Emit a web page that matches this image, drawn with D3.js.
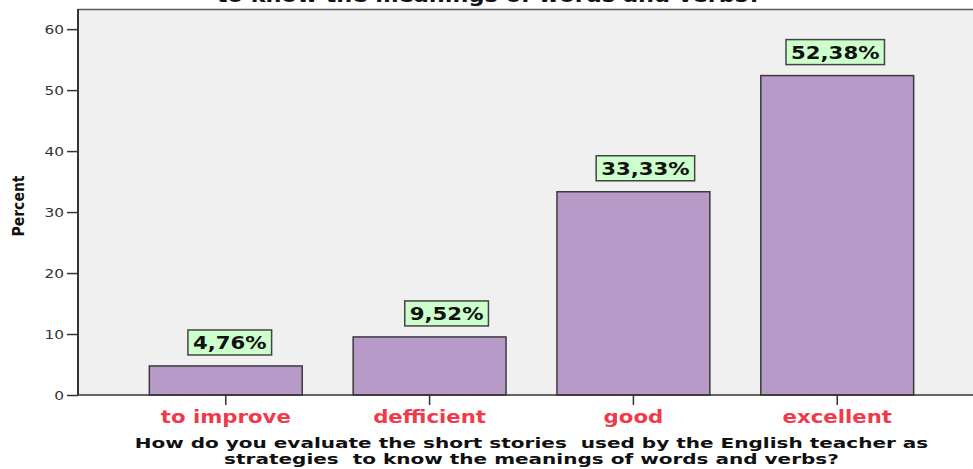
<!DOCTYPE html>
<html>
<head>
<meta charset="utf-8">
<script src="https://cdn.jsdelivr.net/npm/d3@7"></script>
<style>
  html, body { margin: 0; padding: 0; background: #ffffff; }
  svg { display: block; }
  text { white-space: pre; }
</style>
</head>
<body>
<div id="chart"></div>
<script>
'use strict'

// data
const categories = ["to improve", "defficient", "good", "excellent"]
const percents = [4.76, 9.52, 33.33, 52.38]
const valueLabels = ["4,76%", "9,52%", "33,33%", "52,38%"]
const yTicks = [0, 10, 20, 30, 40, 50, 60]
const titleText = "to know the meanings of words and verbs?"
const xTitleLines = ["How do you evaluate the short stories  used by the English teacher as",
                     "strategies  to know the meanings of words and verbs?"]

////////////////////////////////////
//////////// svg setup /////////////
////////////////////////////////////

const svgWidth = 973
const svgHeight = 469

// plot frame (runs past the right edge, as in the picture)
const plot = { left: 78, right: 985, top: 9, bottom: 395 }

// the source image was stretched sideways, text too
const stretch = 1.18
const font = "'DejaVu Sans', Verdana, sans-serif"

// little sideways nudges of the value boxes, as placed in the source
const labelShift = [4, 17, 12, -2]

const svg = d3.select('#chart')
    .append('svg')
    .attr('width', svgWidth)
    .attr('height', svgHeight)

// widen a text element by the stretch factor
function widen(sel, k = stretch) {
    sel.each(function () {
        const len = this.getComputedTextLength()
        d3.select(this)
            .attr('textLength', len * k)
            .attr('lengthAdjust', 'spacingAndGlyphs')
    })
}

////////////////////////////////////
//////////// Scales ////////////////
////////////////////////////////////

const x = d3.scaleBand()
    .domain(categories)
    .range([plot.left, plot.right])
    .paddingInner(0.25)
    .paddingOuter(0.35)

const y = d3.scaleLinear()
    .domain([0, 63.3])
    .range([plot.bottom, plot.top])

////////////////////////////////////
//////////// add to DOM ////////////
////////////////////////////////////

// plot background
svg.append('rect')
    .attr('x', plot.left)
    .attr('y', plot.top)
    .attr('width', plot.right - plot.left)
    .attr('height', plot.bottom - plot.top)
    .style('fill', '#f0f0f0')

svg.append('line')
    .attr('x1', plot.left).attr('x2', plot.right)
    .attr('y1', plot.top + 0.5).attr('y2', plot.top + 0.5)
    .style('stroke', '#5a5a5a')
    .style('stroke-width', 1.5)

// bars
const data = categories.map((c, i) => ({ cat: c, value: percents[i], label: valueLabels[i], shift: labelShift[i] }))

svg.selectAll('.bar')
    .data(data)
    .join('rect')
    .attr('class', 'bar')
    .attr('x', d => x(d.cat))
    .attr('y', d => y(d.value))
    .attr('width', x.bandwidth())
    .attr('height', d => y(0) - y(d.value))
    .style('fill', '#b89ac9')
    .style('stroke', '#3a3a3a')
    .style('stroke-width', 1.5)

// value boxes
const boxH = 25
const labels = svg.selectAll('.vlabel')
    .data(data)
    .join('g')
    .attr('class', 'vlabel')

labels.each(function (d) {
    const g = d3.select(this)
    const cx = x(d.cat) + x.bandwidth() / 2 + d.shift
    const bottom = y(d.value) - 11
    const t = g.append('text')
        .attr('x', cx)
        .attr('y', bottom - 6)
        .attr('text-anchor', 'middle')
        .style('font-family', font)
        .style('font-weight', 'bold')
        .style('font-size', '18px')
        .style('fill', '#111')
        .text(d.label)
    const w = t.node().getComputedTextLength() * stretch + 10
    widen(t)
    g.insert('rect', 'text')
        .attr('x', cx - w / 2)
        .attr('y', bottom - boxH)
        .attr('width', w)
        .attr('height', boxH)
        .style('fill', '#ccffcc')
        .style('stroke', '#444')
        .style('stroke-width', 1.5)
})

// y axis
const yAxis = svg.append('g')
    .attr('transform', `translate(${plot.left},0)`)
    .call(d3.axisLeft(y).tickValues(yTicks).tickSize(11).tickPadding(3))

yAxis.select('.domain')
    .attr('d', `M0,${plot.top}V${plot.bottom}`)
    .style('stroke', '#333')
    .style('stroke-width', 2)
yAxis.selectAll('.tick line').style('stroke', '#333').style('stroke-width', 1.5)
yAxis.selectAll('.tick text')
    .style('font-family', font)
    .style('font-size', '13px')
    .style('fill', '#333')
    .attr('dy', '0.36em')
    .call(widen)

// x axis
const xAxis = svg.append('g')
    .attr('transform', `translate(0,${plot.bottom})`)
    .call(d3.axisBottom(x).tickSize(10).tickPadding(4))

xAxis.select('.domain')
    .attr('d', `M${plot.left},0H${plot.right}`)
    .style('stroke', '#333')
    .style('stroke-width', 1.5)
xAxis.selectAll('.tick line').style('stroke', '#333').style('stroke-width', 1.5)
xAxis.selectAll('.tick text')
    .style('font-family', font)
    .style('font-weight', 'bold')
    .style('font-size', '18px')
    .style('fill', '#f03a4a')
    .attr('dy', '0.78em')
    .call(widen)

// y title
svg.append('text')
    .attr('transform', `translate(24,${(plot.top + plot.bottom) / 2 + 4}) rotate(-90) scale(1,${stretch})`)
    .attr('text-anchor', 'middle')
    .style('font-family', font)
    .style('font-weight', 'bold')
    .style('font-size', '14px')
    .style('fill', '#111')
    .text('Percent')

// x title, two lines
const midX = (plot.left + plot.right) / 2
svg.selectAll('.xtitle')
    .data(xTitleLines)
    .join('text')
    .attr('class', 'xtitle')
    .attr('x', midX)
    .attr('y', (d, i) => 448 + i * 16)
    .attr('text-anchor', 'middle')
    .style('font-family', font)
    .style('font-weight', 'bold')
    .style('font-size', '14px')
    .style('fill', '#111')
    .text(d => d)
    .call(widen, 1.43)

// chart title, cut off at the top as in the source
svg.append('text')
    .attr('x', 489)
    .attr('y', 2)
    .attr('text-anchor', 'middle')
    .style('font-family', font)
    .style('font-weight', 'bold')
    .style('font-size', '19px')
    .style('fill', '#111')
    .text(titleText)
    .call(widen)
</script>
</body>
</html>
